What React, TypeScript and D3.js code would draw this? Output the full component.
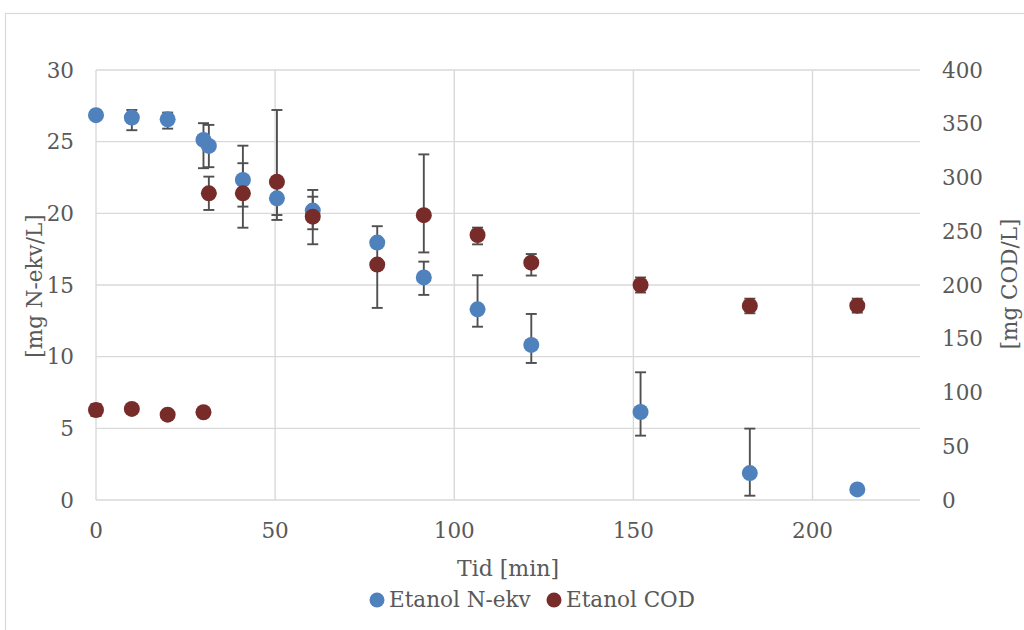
import React from "react";
import * as d3 from "d3";

const times = [0, 10, 20, 30, 31.5, 41, 50.5, 60.5, 78.5, 91.5, 106.5, 121.5, 152, 182.5, 212.5];
const nEkv = [26.85, 26.68, 26.56, 25.12, 24.7, 22.33, 21.05, 20.19, 17.96, 15.53, 13.3, 10.82, 6.14, 1.88, 0.74];
const nEkvPlus = [0, 0.53, 0.47, 1.17, 1.47, 2.39, 1.51, 0.97, 0.3, 1.1, 2.38, 2.16, 2.77, 3.1, 0.2];
const nEkvMinus = [0, 0.88, 0.65, 1.97, 1.48, 1.86, 1.51, 1.3, 0.3, 1.22, 1.21, 1.26, 1.65, 1.58, 0.2];
const cod = [83.7, 84.7, 79.4, 81.6, 285.3, 285.3, 296, 263.6, 219, 265, 246.5, 220.8, 200, 180.5, 180.8];
const codPlus = [5.6, 0, 0, 3.7, 15.5, 28, 66.8, 24.8, 35.7, 56.5, 6.9, 8, 7, 6.8, 6.5];
const codMinus = [5.6, 0, 0, 3.7, 15.5, 32, 30.9, 25.7, 40.3, 34.7, 8.7, 12, 7, 6.8, 6.5];

const xTicks = [0, 50, 100, 150, 200];
const leftTicks = [0, 5, 10, 15, 20, 25, 30];
const rightTicks = [0, 50, 100, 150, 200, 250, 300, 350, 400];

const seriesNames = ["Etanol N-ekv", "Etanol COD"];
const xTitle = "Tid [min]";
const leftTitle = "[mg N-ekv/L]";
const rightTitle = "[mg COD/L]";

const BLUE = "#4F81BD";
const RED = "#772C2A";
const GRID = "#D9D9D9";
const TEXT = "#595959";
const ERR = "#505050";
const FONT = "'DejaVu Serif', serif";

export default function App() {
  const x = d3.scaleLinear().domain([0, 230]).range([96, 920]);
  const yL = d3.scaleLinear().domain([0, 30]).range([500, 70]);
  const yR = d3.scaleLinear().domain([0, 400]).range([500, 70]);
  const r = 8;
  const cap = 5.5;

  const errBar = (cx: number, yTop: number, yBot: number, key: string) => (
    <g key={key} stroke={ERR} strokeWidth={1.9}>
      <line x1={cx} x2={cx} y1={yTop} y2={yBot} />
      <line x1={cx - cap} x2={cx + cap} y1={yTop} y2={yTop} />
      <line x1={cx - cap} x2={cx + cap} y1={yBot} y2={yBot} />
    </g>
  );

  return (
    <svg width={1024} height={630} style={{ position: "absolute", left: 0, top: 0, background: "#fff" }} fontFamily={FONT}>
      <rect x={5.5} y={13.5} width={1100} height={700} fill="#fff" stroke={GRID} strokeWidth={1.2} />
      {leftTicks.map((t) => (
        <line key={"h" + t} x1={x(0)} x2={x(230)} y1={yL(t)} y2={yL(t)} stroke={GRID} strokeWidth={1.4} />
      ))}
      {xTicks.map((t) => (
        <line key={"v" + t} x1={x(t)} x2={x(t)} y1={yL(0)} y2={yL(30)} stroke={GRID} strokeWidth={1.4} />
      ))}
      {leftTicks.map((t) => (
        <text key={"lt" + t} x={74} y={yL(t)} dy="0.36em" textAnchor="end" fontSize={21.5} fill={TEXT}>{t}</text>
      ))}
      {rightTicks.map((t) => (
        <text key={"rt" + t} x={942} y={yR(t)} dy="0.36em" textAnchor="start" fontSize={21.5} fill={TEXT}>{t}</text>
      ))}
      {xTicks.map((t) => (
        <text key={"xt" + t} x={x(t)} y={538} textAnchor="middle" fontSize={21.5} fill={TEXT}>{t}</text>
      ))}
      <text x={x(115)} y={576} textAnchor="middle" fontSize={22} fill={TEXT}>{xTitle}</text>
      <text transform={`translate(42,286) rotate(-90)`} textAnchor="middle" fontSize={21.5} fill={TEXT}>{leftTitle}</text>
      <text transform={`translate(1017,284) rotate(-90)`} textAnchor="middle" fontSize={21.5} fill={TEXT}>{rightTitle}</text>
      {times.map((t, i) =>
        nEkvPlus[i] + nEkvMinus[i] > 0 ? errBar(x(t), yL(nEkv[i] + nEkvPlus[i]), yL(nEkv[i] - nEkvMinus[i]), "eb" + i) : null
      )}
      {times.map((t, i) =>
        codPlus[i] + codMinus[i] > 0 ? errBar(x(t), yR(cod[i] + codPlus[i]), yR(cod[i] - codMinus[i]), "er" + i) : null
      )}
      {times.map((t, i) => (
        <circle key={"cb" + i} cx={x(t)} cy={yL(nEkv[i])} r={r} fill={BLUE} />
      ))}
      {times.map((t, i) => (
        <circle key={"cr" + i} cx={x(t)} cy={yR(cod[i])} r={r} fill={RED} />
      ))}
      <circle cx={377} cy={600} r={7.5} fill={BLUE} />
      <text x={389} y={607} fontSize={21.5} fill={TEXT}>{seriesNames[0]}</text>
      <circle cx={554} cy={600} r={7.5} fill={RED} />
      <text x={566} y={607} fontSize={21.5} fill={TEXT}>{seriesNames[1]}</text>
    </svg>
  );
}
